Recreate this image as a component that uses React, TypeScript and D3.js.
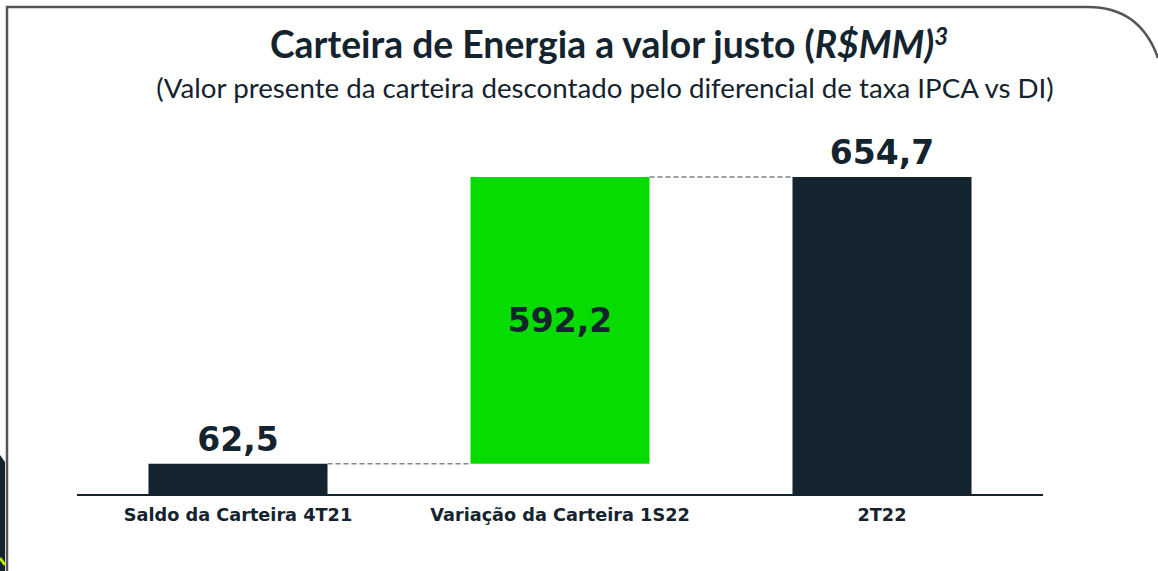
import React from "react";
import * as d3 from "d3";

const categories = ["Saldo da Carteira 4T21", "Variação da Carteira 1S22", "2T22"];
const values = [62.5, 592.2, 654.7];
const kinds = ["total", "delta", "total"];
const valueLabels = ["62,5", "592,2", "654,7"];

const W = 1158;
const H = 571;
const DARK = "#14242f";
const GREEN = "#06dc00";

export default function App() {
  // running totals for the waterfall
  let acc = 0;
  const bars = categories.map((c, i) => {
    const v = values[i];
    let start = 0;
    let end = v;
    if (kinds[i] === "delta") {
      start = acc;
      end = acc + v;
      acc = end;
    } else {
      acc = v;
    }
    return { c, v, start, end, kind: kinds[i], label: valueLabels[i] };
  });

  const x = d3.scaleBand<string>().domain(categories).range([77, 1043]).paddingInner(0.444).paddingOuter(0.222);
  const y = d3.scaleLinear().domain([0, d3.max(bars, (b) => b.end) as number]).range([494, 177]);
  const bw = x.bandwidth();

  return (
    <svg width={W} height={H} style={{ position: "absolute", left: 0, top: 0, background: "#fff" }}>
      {/* frame */}
      <path d={`M7,${H} L7,7 L1088,7 Q1140,7 1158,58`} fill="none" stroke="#555" strokeWidth={2.5} />
      <path d={`M0,455 L5,462 L5,${H} L0,${H} Z`} fill={DARK} />
      <path d="M0,558 L5,565" stroke="#b8f000" strokeWidth={3} />

      <text x={609} y={58} textAnchor="middle" fontFamily="Lato, 'Open Sans', sans-serif" fontWeight={700} fontSize={37.3} fill={DARK}>
        Carteira de Energia a valor justo (<tspan fontStyle="italic">R$MM)</tspan>
        <tspan fontStyle="italic" fontSize={24} dy={-13}>3</tspan>
      </text>
      <text x={605} y={98} textAnchor="middle" fontFamily="Lato, 'Open Sans', sans-serif" fontSize={27.7} fill={DARK}>
        (Valor presente da carteira descontado pelo diferencial de taxa IPCA vs DI)
      </text>

      {/* connectors */}
      {bars.slice(0, -1).map((b, i) => (
        <line key={`c${i}`} x1={(x(b.c) as number) + bw} x2={x(categories[i + 1]) as number} y1={y(b.end)} y2={y(b.end)}
          stroke="#7d858c" strokeWidth={1.4} strokeDasharray="5,3" />
      ))}

      {bars.map((b) => (
        <rect key={b.c} x={x(b.c)} width={bw} y={y(b.end)} height={y(b.start) - y(b.end)} fill={b.kind === "delta" ? GREEN : DARK} />
      ))}

      <line x1={77} x2={1043} y1={y(0) + 1} y2={y(0) + 1} stroke={DARK} strokeWidth={2} />

      {bars.map((b) => {
        const cx = (x(b.c) as number) + bw / 2;
        const ty = b.kind === "delta" ? (y(b.start) + y(b.end)) / 2 + 12 : y(b.end) - 13;
        return (
          <text key={`v${b.c}`} x={cx} y={ty} textAnchor="middle" fontFamily="'DejaVu Sans', sans-serif" fontWeight={700} fontSize={33} fill={DARK}>
            {b.label}
          </text>
        );
      })}

      {bars.map((b) => (
        <text key={`l${b.c}`} x={(x(b.c) as number) + bw / 2} y={521} textAnchor="middle" fontFamily="'DejaVu Sans', sans-serif" fontWeight={700} fontSize={17.7} fill={DARK}>
          {b.c}
        </text>
      ))}
    </svg>
  );
}
